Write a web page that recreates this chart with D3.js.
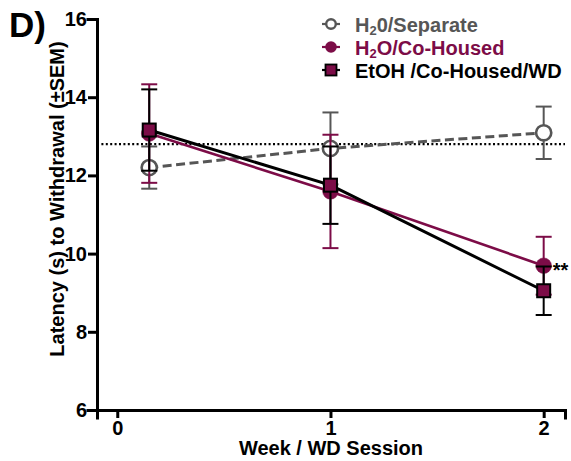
<!DOCTYPE html>
<html><head><meta charset="utf-8">
<script src="https://cdn.jsdelivr.net/npm/d3@7"></script>
<style>
html,body{margin:0;padding:0;background:#fff;}
svg{display:block;font-family:"Liberation Sans",Arial,Helvetica,sans-serif;font-weight:bold;}
</style></head>
<body>
<svg id="chart" width="571" height="461"></svg>
<script>
// ---- data ----
const xPositions = [0.15, 1, 2];
const xTicks = [0, 1, 2];
const yTicks = [6, 8, 10, 12, 14, 16];
const separateMean = [12.2, 12.69, 13.09];
const separateSem  = [0.54, 0.92, 0.67];
const coHousedMean = [13.07, 11.59, 9.69];
const coHousedSem  = [1.26, 1.45, 0.74];
const etohMean     = [13.16, 11.75, 9.05];
const etohSem      = [1.04, 0.99, 0.62];
const baselineValue = 12.8;
const seriesNames = ["H20/Separate", "H2O/Co-Housed", "EtOH /Co-Housed/WD"];
const maroon = "#7c0c47", gray = "#565656";

const svg = d3.select("#chart");
const x = d3.scaleLinear().domain([-0.095, 2.1]).range([97, 565]);
const y = d3.scaleLinear().domain([6, 16]).range([410, 19]);

// title
svg.append("text").attr("x", 9).attr("y", 37).attr("font-size", 35).text("D)");

// dotted reference line
svg.append("line").attr("x1", x(-0.095)).attr("x2", x(2.1))
  .attr("y1", y(baselineValue)).attr("y2", y(baselineValue))
  .attr("stroke", "#000").attr("stroke-width", 2.2).attr("stroke-dasharray", "2,2.4");

// axes
const yAxis = svg.append("g").attr("transform", "translate(97,0)")
  .call(d3.axisLeft(y).tickValues(yTicks).tickFormat(d3.format("d")).tickSizeOuter(0).tickSize(9).tickPadding(1));
const xAxis = svg.append("g").attr("transform", "translate(0,410)")
  .call(d3.axisBottom(x).tickValues(xTicks).tickFormat(d3.format("d")).tickSizeOuter(0).tickSize(8).tickPadding(2));
[yAxis, xAxis].forEach(g => {
  g.select(".domain").attr("stroke-width", 3).attr("stroke", "#000").attr("stroke-linecap", "square");
  g.selectAll(".tick line").attr("stroke-width", 3).attr("stroke", "#000");
  g.selectAll(".tick text").attr("font-size", 20).attr("font-family", "Liberation Sans, Arial, sans-serif")
    .attr("font-weight", "bold").attr("fill", "#000");
});
xAxis.selectAll(".tick text").attr("dy", "0.76em");

// axis labels
svg.append("text").attr("x", 331).attr("y", 455).attr("text-anchor", "middle").attr("font-size", 20)
  .text("Week / WD Session");
svg.append("text").attr("transform", "translate(64,199) rotate(-90)").attr("text-anchor", "middle")
  .attr("font-size", 20).text("Latency (s) to Withdrawal (±SEM)");

function series(means, sems, color, opts) {
  const pts = xPositions.map((xv, i) => ({x: xv, m: means[i], s: sems[i]}));
  const g = svg.append("g");
  // error bars
  pts.forEach(p => {
    const eb = g.append("g").attr("stroke", color).attr("stroke-width", 2);
    eb.append("line").attr("x1", x(p.x)).attr("x2", x(p.x)).attr("y1", y(p.m - p.s)).attr("y2", y(p.m + p.s));
    [p.m - p.s, p.m + p.s].forEach(v => eb.append("line")
      .attr("x1", x(p.x) - 8).attr("x2", x(p.x) + 8).attr("y1", y(v)).attr("y2", y(v)));
  });
  g.append("path").datum(pts)
    .attr("d", d3.line().x(d => x(d.x)).y(d => y(d.m)))
    .attr("fill", "none").attr("stroke", opts.lineColor).attr("stroke-width", opts.lw)
    .attr("stroke-dasharray", opts.dash || null);
  pts.forEach(p => {
    if (opts.shape === "circle") {
      g.append("circle").attr("cx", x(p.x)).attr("cy", y(p.m)).attr("r", opts.r)
        .attr("fill", opts.fill).attr("stroke", opts.stroke).attr("stroke-width", opts.sw);
    } else {
      g.append("rect").attr("x", x(p.x) - 6.5).attr("y", y(p.m) - 6.5).attr("width", 13).attr("height", 13)
        .attr("fill", opts.fill).attr("stroke", opts.stroke).attr("stroke-width", 2);
    }
  });
  return pts;
}

series(separateMean, separateSem, gray, {lineColor: gray, lw: 3, dash: "9,4.5", shape: "circle", r: 7.6, fill: "#fff", stroke: gray, sw: 2.6});
const coPts = series(coHousedMean, coHousedSem, maroon, {lineColor: maroon, lw: 2.6, shape: "circle", r: 7.8, fill: maroon, stroke: maroon, sw: 0.5});
series(etohMean, etohSem, "#000", {lineColor: "#000", lw: 3, shape: "rect", fill: maroon, stroke: "#000"});

// significance marker
svg.append("text").attr("x", x(coPts[2].x) + 9).attr("y", y(coPts[2].m) + 11).attr("font-size", 20).text("**");

// legend
const legY = [24, 47, 70];
const lg = svg.append("g");
const lm = 331;
// row 1
lg.append("line").attr("x1", lm - 9).attr("x2", lm + 9).attr("y1", legY[0]).attr("y2", legY[0]).attr("stroke", gray).attr("stroke-width", 2.2);
lg.append("circle").attr("cx", lm).attr("cy", legY[0]).attr("r", 4.8).attr("fill", "#fff").attr("stroke", gray).attr("stroke-width", 2.4);
// row 2
lg.append("line").attr("x1", lm - 9).attr("x2", lm + 9).attr("y1", legY[1]).attr("y2", legY[1]).attr("stroke", maroon).attr("stroke-width", 2.2);
lg.append("circle").attr("cx", lm).attr("cy", legY[1]).attr("r", 5.8).attr("fill", maroon);
// row 3
lg.append("line").attr("x1", lm - 9).attr("x2", lm + 9).attr("y1", legY[2]).attr("y2", legY[2]).attr("stroke", "#000").attr("stroke-width", 2.2);
lg.append("rect").attr("x", lm - 5.5).attr("y", legY[2] - 5.5).attr("width", 11).attr("height", 11).attr("fill", maroon).attr("stroke", "#000").attr("stroke-width", 1.8);

const legendColors = [gray, maroon, "#000"];
seriesNames.forEach((name, i) => {
  const t = lg.append("text").attr("x", 355).attr("y", legY[i] + 7.5).attr("font-size", 20).attr("fill", legendColors[i]);
  if (i < 2) {
    t.append("tspan").text(name.slice(0, 1));
    t.append("tspan").attr("font-size", 13).attr("dy", 3).text(name.slice(1, 2));
    t.append("tspan").attr("dy", -3).text(name.slice(2));
  } else {
    t.text(name);
  }
});
</script>
</body></html>
